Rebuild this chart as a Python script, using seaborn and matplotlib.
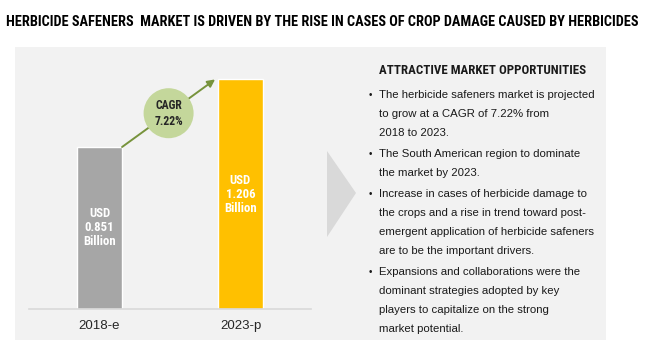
import matplotlib
matplotlib.use("Agg")
import matplotlib.pyplot as plt
from matplotlib.patches import Rectangle, Polygon, Circle, FancyArrowPatch
from matplotlib.transforms import IdentityTransform
import seaborn as sns
import pandas as pd

# ---- data ----
years = ["2018-e", "2023-p"]
market_value = [0.851, 1.206]          # USD billion
bar_colors = ["#a6a6a6", "#ffc000"]
cagr_label = "CAGR\n7.22%"

title = ("HERBICIDE SAFENERS  MARKET IS DRIVEN BY THE RISE IN CASES OF "
         "CROP DAMAGE CAUSED BY HERBICIDES")
panel_heading = "ATTRACTIVE MARKET OPPORTUNITIES"
bullets = [
    ["The herbicide safeners market is projected",
     "to grow at a CAGR of 7.22% from",
     "2018 to 2023."],
    ["The South American region to dominate",
     "the market by 2023."],
    ["Increase in cases of herbicide damage to",
     "the crops and a rise in trend toward post-",
     "emergent application of herbicide safeners",
     "are to be the important drivers."],
    ["Expansions and collaborations were the",
     "dominant strategies adopted by key",
     "players to capitalize on the strong",
     "market potential."],
]

df = pd.DataFrame({"year": years, "value": market_value})

W, H = 647, 349
sns.set_theme(style="white")
narrow = ["Liberation Sans Narrow", "Roboto Condensed", "Roboto", "DejaVu Sans"]
body = ["Liberation Sans", "DejaVu Sans"]
plt.rcParams["font.family"] = body

fig = plt.figure(figsize=(W / 100, H / 100), dpi=100)
fig.patch.set_facecolor("white")

# background layer in pixel units (origin top-left)
bg = fig.add_axes([0, 0, 1, 1], zorder=0)
bg.set_xlim(0, W)
bg.set_ylim(H, 0)
bg.axis("off")

bg.add_patch(Rectangle((15, 47), 591, 293, facecolor="#f2f2f2",
                       edgecolor="none"))
bg.add_patch(Polygon([(327, 151), (356, 193), (327, 237)], closed=True,
                     facecolor="#d9d9d9", edgecolor="none"))

bg.text(6, 22, title, family=narrow, fontweight="bold", fontsize=10.25,
        color="black", va="center", ha="left")

bg.text(379, 70, panel_heading, family=narrow, fontweight="bold",
        fontsize=9.3, color="#1a1a1a", va="center", ha="left")

y = 95
for lines in bullets:
    bg.text(370, y, "\u2022", family=body, fontsize=7, color="#1a1a1a",
            va="center", ha="center")
    for line in lines:
        bg.text(379, y, line, family=body, fontsize=8.2, color="#1a1a1a",
                va="center", ha="left")
        y += 19
    y += 2

# bar chart
ax = fig.add_axes([29 / W, (H - 309) / H, 282 / W, 249 / H], zorder=1)
ax.patch.set_alpha(0)
sns.barplot(data=df, x="year", y="value", hue="year", palette=bar_colors,
            width=0.32, legend=False, ax=ax, saturation=1)
ax.set_xlim(-0.5, 1.5)
ax.set_ylim(0, 1.308)
ax.set_xlabel("")
ax.set_ylabel("")
ax.set_yticks([])
for side in ["top", "right", "left"]:
    ax.spines[side].set_visible(False)
ax.spines["bottom"].set_color("#d9d9d9")
ax.spines["bottom"].set_linewidth(1.2)
ax.tick_params(axis="x", length=0, pad=8, labelsize=9.5, labelcolor="#262626")

half = 0.16
for i, v in enumerate(market_value):
    ax.text(i, v / 2, f"USD\n{v:.3f}\nBillion", family=narrow,
            fontweight="bold", fontsize=9.2, color="white", ha="center",
            va="center", linespacing=1.1)

# growth arrow between the bar tops, with the CAGR badge at its midpoint
p0 = ax.transData.transform((0 + half, market_value[0]))
p1 = ax.transData.transform((1 - half - 0.02, market_value[1]))
arrow = FancyArrowPatch(p0, p1, transform=IdentityTransform(),
                        arrowstyle="-|>", mutation_scale=11,
                        color="#77933c", lw=1.4, shrinkA=0, shrinkB=0,
                        clip_on=False)
ax.add_artist(arrow)
mid = (p0 + p1) / 2
ax.add_artist(Circle(mid, 25, transform=IdentityTransform(),
                     facecolor="#c4d79b", edgecolor="none", clip_on=False,
                     zorder=5))
ax.annotate(cagr_label, xy=mid, xycoords="figure pixels", ha="center",
            va="center", family=narrow, fontweight="bold", fontsize=8.5,
            color="#262626", linespacing=1.3, zorder=6)

fig.savefig("out.png", dpi=100, facecolor="white")
